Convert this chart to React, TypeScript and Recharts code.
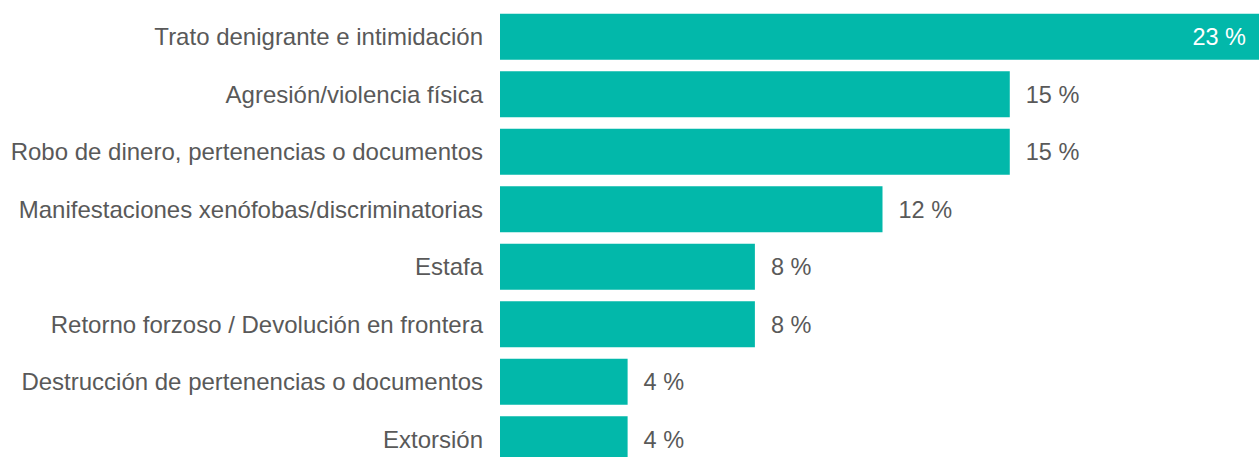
import React from 'react';
import { BarChart, Bar, XAxis, YAxis, LabelList } from 'recharts';

const categories = [
  'Trato denigrante e intimidación',
  'Agresión/violencia física',
  'Robo de dinero, pertenencias o documentos',
  'Manifestaciones xenófobas/discriminatorias',
  'Estafa',
  'Retorno forzoso / Devolución en frontera',
  'Destrucción de pertenencias o documentos',
  'Extorsión',
];
const values = [23.08, 15.38, 15.38, 11.54, 7.69, 7.69, 3.85, 3.85];
const valueLabels = ['23 %', '15 %', '15 %', '12 %', '8 %', '8 %', '4 %', '4 %'];

const data = categories.map((name, i) => ({ name, value: values[i], label: valueLabels[i] }));

const FONT = '"Liberation Sans", Arial, sans-serif';
const TEXT = '#595959';
const BAR = '#02B8AA';

const renderLabel = (props: any) => {
  const { x, y, width, height, index } = props;
  const inside = index === 0;
  const cy = y + height / 2;
  return (
    <text
      x={inside ? x + width - 19 : x + width + 16}
      y={cy}
      dy="0.36em"
      textAnchor={inside ? 'end' : 'start'}
      fill={inside ? '#ffffff' : TEXT}
      fontSize={23.5}
      fontFamily={FONT}
    >
      {valueLabels[index]}
    </text>
  );
};

export default function App() {
  return (
    <div
      style={{
        position: 'fixed',
        left: 0,
        top: 0,
        width: 1259,
        height: 457,
        overflow: 'hidden',
        background: '#ffffff',
        fontFamily: FONT,
      }}
    >
      <div style={{ position: 'absolute', left: 8, top: 8 }}>
        <BarChart
          width={1257}
          height={460}
          data={data}
          layout="vertical"
          margin={{ top: 0, right: 0, bottom: 0, left: 0 }}
          barCategoryGap="10%"
        >
          <XAxis type="number" domain={[0, 23.08]} hide />
          <YAxis
            type="category"
            dataKey="name"
            width={492}
            axisLine={false}
            tickLine={false}
            tickSize={0}
            tickMargin={17}
            interval={0}
            tick={{ fill: TEXT, fontSize: 24, fontFamily: FONT }}
          />
          <Bar dataKey="value" fill={BAR} isAnimationActive={false}>
            <LabelList dataKey="label" content={renderLabel} />
          </Bar>
        </BarChart>
      </div>
    </div>
  );
}
